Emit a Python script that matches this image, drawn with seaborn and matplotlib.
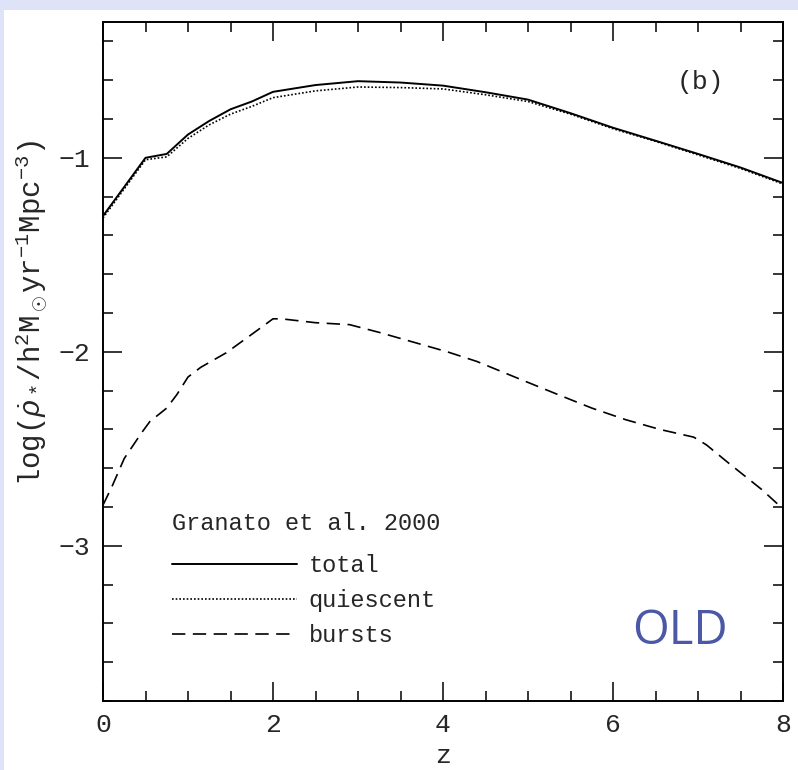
import numpy as np
import pandas as pd
import matplotlib
matplotlib.use("Agg")
import matplotlib.pyplot as plt
import seaborn as sns
from matplotlib.ticker import MultipleLocator
from matplotlib.patches import Rectangle

# ---- data ----
z_sfr = [0, 0.5, 0.75, 1.0, 1.25, 1.5, 1.75, 2.0, 2.5, 3.0, 3.5, 4.0,
         4.5, 5.0, 5.5, 6.0, 6.5, 7.0, 7.5, 8.0]
total = [-1.30, -1.00, -0.98, -0.88, -0.81, -0.75, -0.71, -0.66, -0.625, -0.605,
         -0.612, -0.628, -0.662, -0.70, -0.77, -0.845, -0.912, -0.98, -1.05, -1.13]
quiescent = [-1.31, -1.01, -0.995, -0.90, -0.83, -0.775, -0.735, -0.69, -0.655, -0.635,
             -0.638, -0.645, -0.675, -0.71, -0.775, -0.85, -0.915, -0.985, -1.055, -1.135]

z_bursts = [0, 0.1, 0.25, 0.45, 0.55, 0.75, 0.87, 1.0, 1.15, 1.45, 1.75, 2.0,
            2.1, 2.5, 2.9, 3.25, 3.65, 4.05, 4.4, 4.9, 5.35, 5.75, 6.15, 6.55,
            6.95, 7.1, 7.35, 7.75, 8.0]
bursts = [-2.79, -2.70, -2.55, -2.42, -2.36, -2.29, -2.22, -2.13, -2.08, -2.005,
          -1.91, -1.83, -1.83, -1.85, -1.86, -1.90, -1.95, -2.0, -2.05, -2.14,
          -2.22, -2.29, -2.35, -2.40, -2.44, -2.48, -2.57, -2.71, -2.81]

legend_title = "Granato et al. 2000"
series_names = ["total", "quiescent", "bursts"]

# ---- plot ----
sns.set_style("ticks")
plt.rcParams["font.family"] = ["Liberation Mono", "DejaVu Sans"]
plt.rcParams["mathtext.fontset"] = "custom"
plt.rcParams["mathtext.rm"] = "Liberation Mono"
plt.rcParams["mathtext.it"] = "Liberation Mono:italic"

fig = plt.figure(figsize=(7.98, 7.70), dpi=100)
fig.patch.set_facecolor("#dfe3f7")
fig.patches.append(Rectangle((4 / 798, 0), 1, 1 - 10 / 770, transform=fig.transFigure,
                             facecolor="white", edgecolor="none", zorder=-10))

ax = fig.add_axes([103 / 798, 69 / 770, 680 / 798, 679 / 770])
ax.set_zorder(1)

df_sfr = pd.DataFrame({"z": z_sfr, "total": total, "quiescent": quiescent})
df_b = pd.DataFrame({"z": z_bursts, "bursts": bursts})

sns.lineplot(data=df_sfr, x="z", y="total", ax=ax, color="black", lw=1.4,
             label=series_names[0])
sns.lineplot(data=df_sfr, x="z", y="quiescent", ax=ax, color="black", lw=1.2,
             linestyle=(0, (1, 1.2)), label=series_names[1])
sns.lineplot(data=df_b, x="z", y="bursts", ax=ax, color="black", lw=1.2,
             linestyle=(0, (8, 4.5)), label=series_names[2])

ax.set_xlim(0, 8)
ax.set_ylim(-3.8, -0.3)
ax.xaxis.set_major_locator(MultipleLocator(2))
ax.xaxis.set_minor_locator(MultipleLocator(0.5))
ax.yaxis.set_minor_locator(MultipleLocator(0.2))
ax.set_yticks([-1, -2, -3])
ax.set_yticklabels(["\u22121", "\u22122", "\u22123"])
ax.tick_params(which="both", direction="in", top=True, right=True,
               labelsize=19, color="black", width=1.1, pad=9)
ax.tick_params(which="major", length=14)
ax.tick_params(which="minor", length=7.5)
for s in ax.spines.values():
    s.set_linewidth(1.4)
    s.set_color("black")

ax.set_xlabel("z", fontsize=19)
ax.xaxis.set_label_coords(0.5, -0.063)
ax.set_ylabel(r"$\mathrm{log}(\dot{\rho}_*/\mathrm{h^2M_\odot yr^{-1}Mpc^{-3}})$", fontsize=21)
ax.yaxis.set_label_coords(-0.078, 0.572)

ax.text(0.878, 0.912, "(b)", transform=ax.transAxes, fontsize=19,
        ha="center", va="center")
ax.text(0.848, 0.103, "OLD", transform=ax.transAxes, fontsize=34,
        family="Open Sans", color="#4a58a6", ha="center", va="center")

leg = ax.legend(title=legend_title, loc="upper left", bbox_to_anchor=(0.07, 0.31),
                frameon=False, fontsize=17, title_fontsize=17, handlelength=5.3,
                handletextpad=0.5, labelspacing=0.5, alignment="left")
leg._legend_box.sep = 14

plt.savefig("out.png", dpi=100, facecolor=fig.get_facecolor())
